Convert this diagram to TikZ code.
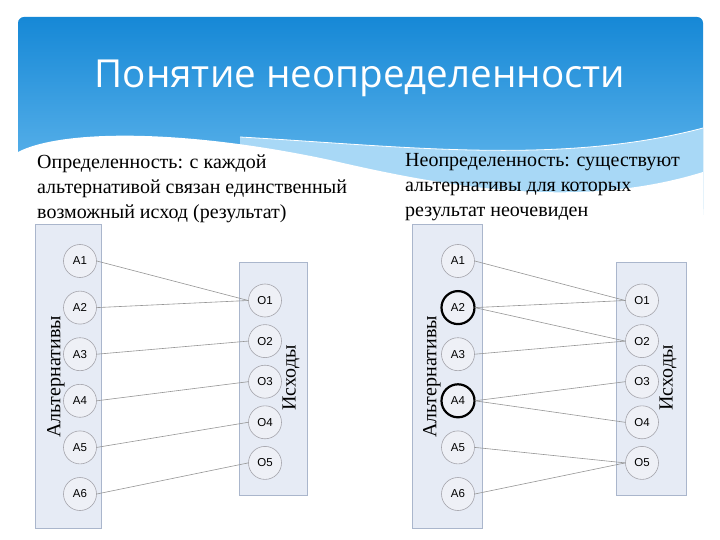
\documentclass[tikz,border=0pt]{standalone}
\usepackage{fontspec}
\setmainfont{Liberation Serif}
\setsansfont{Liberation Sans}
\newfontfamily\titlefont{Open Sans}
\usetikzlibrary{calc}

\definecolor{bannertop}{RGB}{22,136,214}
\definecolor{bannerbot}{RGB}{110,190,240}
\definecolor{waveblue}{RGB}{168,216,246}
\definecolor{boxfill}{RGB}{230,235,245}
\definecolor{boxline}{RGB}{170,182,204}
\definecolor{circfill}{RGB}{238,240,246}
\definecolor{circline}{RGB}{165,165,172}
\definecolor{linkgray}{RGB}{150,150,150}

\tikzset{
  groupbox/.style={draw=boxline, fill=boxfill, line width=.8pt},
  alt/.style={circle, draw=circline, fill=circfill, minimum size=33pt,
    inner sep=0pt, line width=.6pt, font=\sffamily\fontsize{11.5}{13}\selectfont},
  marked/.style={draw=black, line width=2.2pt},
  link/.style={draw=linkgray, line width=.6pt},
  lead/.style={font=\fontsize{20}{25}\selectfont, align=left,
    anchor=north west, inner sep=0pt},
  side/.style={rotate=90, font=\fontsize{20}{24}\selectfont},
}

\begin{document}
\begin{tikzpicture}[x=1pt,y=-1pt]
\useasboundingbox (0,0) rectangle (720,540);
\fill[white] (0,0) rectangle (720,540);

% title banner with waves
\shade[top color=bannertop, bottom color=bannerbot, rounded corners=6pt]
  (18,17) rectangle (703,215);
\fill[waveblue] (240,137) .. controls (400,146) and (560,166) .. (703,128)
  -- (703,215) -- (240,215) -- cycle;
\fill[white] (18,152) .. controls (60,130) and (180,128) .. (330,160)
  .. controls (450,188) and (580,210) .. (703,172) -- (703,230) -- (18,230) -- cycle;
\draw[white, line width=.8pt] (240,137) .. controls (400,146) and (560,166) .. (703,128);
\node[font=\titlefont\fontsize{38.6}{42}\selectfont, text=white] (title) at (360,78)
  {Понятие неопределенности};

% captions
\node[lead] (lefttext) at (37,155) {Определенность: с каждой\\альтернативой связан единственный\\возможный исход (результат)};
\node[lead] (righttext) at (405,153) {Неопределенность: существуют\\альтернативы для которых\\результат неочевиден};

% left: certainty
\draw[groupbox] (35,224) rectangle (101,528);
\draw[groupbox] (239,262) rectangle (307,495);
\node[side] (leftalt) at (56,377) {Альтернативы};
\node[side] (leftout) at (291,378) {Исходы};
\foreach \i [evaluate=\i as \y using 261+46.6*(\i-1)] in {1,...,6}
  \node[alt] (la\i) at (80,\y) {A\i};
\foreach \i [evaluate=\i as \y using 300.5+40.6*(\i-1)] in {1,...,5}
  \node[alt] (lo\i) at (265,\y) {O\i};
\foreach \a/\o in {1/1,2/1,3/2,4/3,5/4,6/5}
  \draw[link] (la\a.east) -- (lo\o.west);

% right: uncertainty
\draw[groupbox] (412,224) rectangle (482,528);
\draw[groupbox] (616,262) rectangle (686,495);
\node[side] (rightalt) at (432,377) {Альтернативы};
\node[side] (rightout) at (668,378) {Исходы};
\foreach \i [evaluate=\i as \y using 261+46.6*(\i-1)] in {1,...,6}
  \node[alt] (ra\i) at (458,\y) {A\i};
\foreach \i [evaluate=\i as \y using 300.5+40.6*(\i-1)] in {1,...,5}
  \node[alt] (ro\i) at (642,\y) {O\i};
\node[alt, marked] at (ra2) {A2};
\node[alt, marked] at (ra4) {A4};
\foreach \a/\o in {1/1,2/1,2/2,3/2,4/3,4/4,5/5,6/5}
  \draw[link] (ra\a.east) -- (ro\o.west);
\end{tikzpicture}
\end{document}
